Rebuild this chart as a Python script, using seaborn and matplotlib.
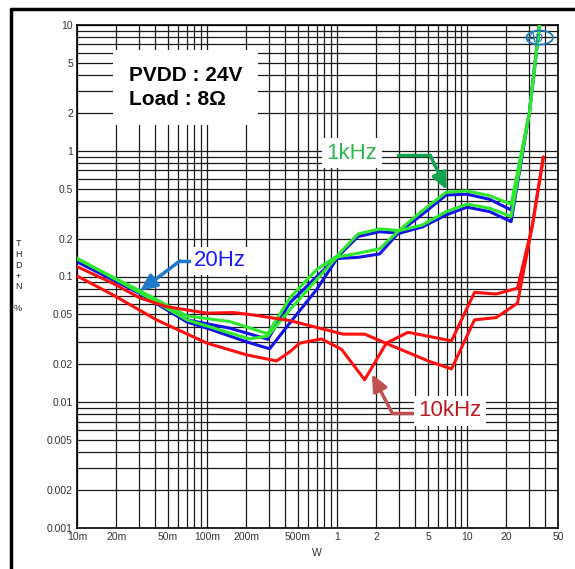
import matplotlib
matplotlib.use("Agg")
import matplotlib.pyplot as plt
from matplotlib.lines import Line2D
from matplotlib.patches import Ellipse
from matplotlib.ticker import FixedLocator, FixedFormatter, LogLocator, NullFormatter
import seaborn as sns
import pandas as pd

# THD+N (%) vs output power (W)
blue1_w = [0.01, 0.0305, 0.07, 0.15, 0.293, 0.433, 0.693, 1.0, 1.45, 2.12, 3.03, 4.54, 6.91, 10, 14.9, 21.8, 30.1, 36]
blue1_thd = [0.133, 0.0755, 0.0452, 0.0388, 0.0317, 0.0616, 0.0993, 0.142, 0.208, 0.227, 0.221, 0.248, 0.309, 0.356, 0.328, 0.273, 2.0, 10]
green1_w = [0.01, 0.0305, 0.07, 0.15, 0.293, 0.433, 0.693, 1.0, 1.45, 2.12, 3.03, 4.54, 6.91, 10, 14.9, 21.8, 30.1, 36]
green1_thd = [0.138, 0.0769, 0.0486, 0.0438, 0.035, 0.0675, 0.113, 0.146, 0.218, 0.239, 0.232, 0.257, 0.328, 0.376, 0.349, 0.300, 2.0, 10]
blue2_w = [0.01, 0.0305, 0.07, 0.1, 0.202, 0.303, 0.433, 0.693, 1.0, 1.45, 2.12, 3.03, 4.31, 6.91, 10, 14.9, 21.8, 30.1, 36]
blue2_thd = [0.131, 0.073, 0.0435, 0.0388, 0.0302, 0.0266, 0.0427, 0.0783, 0.139, 0.142, 0.151, 0.227, 0.30, 0.445, 0.451, 0.411, 0.338, 2.0, 10]
green2_w = [0.01, 0.0305, 0.07, 0.15, 0.213, 0.293, 0.433, 0.693, 1.0, 1.45, 2.12, 3.03, 4.31, 6.91, 10, 14.9, 21.8, 30.1, 36]
green2_thd = [0.140, 0.0743, 0.0452, 0.0355, 0.0319, 0.0336, 0.0543, 0.094, 0.143, 0.153, 0.166, 0.235, 0.32, 0.468, 0.479, 0.439, 0.376, 2.0, 10]
red1_w = [0.01, 0.019, 0.0305, 0.0489, 0.1, 0.158, 0.225, 0.433, 1.11, 1.63, 2.54, 5.14, 7.59, 11.4, 16.7, 24.4, 31.8, 38.6]
red1_thd = [0.12, 0.088, 0.0675, 0.0576, 0.0511, 0.0517, 0.0495, 0.0446, 0.0348, 0.0348, 0.0286, 0.0211, 0.0184, 0.0452, 0.0471, 0.0613, 0.257, 0.893]
red2_w = [0.01, 0.0189, 0.0409, 0.1, 0.202, 0.342, 0.433, 0.516, 0.757, 1.08, 1.63, 2.39, 3.51, 7.59, 11.4, 16.7, 24.4, 31.8, 38.6]
red2_thd = [0.101, 0.0714, 0.0452, 0.0295, 0.0238, 0.0213, 0.0252, 0.0295, 0.0319, 0.0264, 0.0151, 0.0295, 0.036, 0.0308, 0.0748, 0.0726, 0.0807, 0.257, 0.893]

x_ticks = [0.01, 0.02, 0.05, 0.1, 0.2, 0.5, 1, 2, 5, 10, 20, 50]
x_labels = ["10m", "20m", "50m", "100m", "200m", "500m", "1", "2", "5", "10", "20", "50"]
y_ticks = [0.001, 0.002, 0.005, 0.01, 0.02, 0.05, 0.1, 0.2, 0.5, 1, 2, 5, 10]
y_labels = ["0.001", "0.002", "0.005", "0.01", "0.02", "0.05", "0.1", "0.2", "0.5", "1", "2", "5", "10"]

sns.set_style("white")
plt.rcParams["font.family"] = ["Liberation Sans", "DejaVu Sans"]

fig = plt.figure(figsize=(5.75, 5.69), dpi=100)
ax = fig.add_axes([77 / 575, 41 / 569, 481 / 575, 503 / 569])

curves = [
    (blue1_w, blue1_thd, "#1414e6"),
    (blue2_w, blue2_thd, "#1414e6"),
    (green1_w, green1_thd, "#2ee82e"),
    (green2_w, green2_thd, "#2ee82e"),
    (red1_w, red1_thd, "#ff1010"),
    (red2_w, red2_thd, "#ff1010"),
]
for w, thd, c in curves:
    df = pd.DataFrame({"W": w, "THD": thd})
    sns.lineplot(data=df, x="W", y="THD", color=c, lw=2.2, sort=False,
                 estimator=None, ax=ax, zorder=3)

ax.set_xscale("log")
ax.set_yscale("log")
ax.set_xlim(0.01, 50)
ax.set_ylim(0.001, 10)
ax.set_xlabel("")
ax.set_ylabel("")

ax.xaxis.set_major_locator(FixedLocator(x_ticks))
ax.xaxis.set_major_formatter(FixedFormatter(x_labels))
ax.yaxis.set_major_locator(FixedLocator(y_ticks))
ax.yaxis.set_major_formatter(FixedFormatter(y_labels))
ax.xaxis.set_minor_locator(LogLocator(base=10, subs=range(1, 10), numticks=20))
ax.yaxis.set_minor_locator(LogLocator(base=10, subs=range(1, 10), numticks=20))
ax.xaxis.set_minor_formatter(NullFormatter())
ax.yaxis.set_minor_formatter(NullFormatter())
ax.tick_params(which="both", length=0, labelsize=7.5, labelcolor="#333333", pad=3)
ax.grid(which="both", color="#1a1a1a", lw=0.9)
ax.set_axisbelow(True)
for s in ax.spines.values():
    s.set_color("black")
    s.set_linewidth(1.2)

# annotations
ax.text(0.108, 0.876, "PVDD : 24V\nLoad : 8\u03a9", transform=ax.transAxes, color="black",
        fontsize=15, fontweight="bold", ha="left", va="center", linespacing=1.35,
        bbox=dict(boxstyle="square,pad=0.75", fc="white", ec="none"), zorder=5)

ax.text(0.243, 0.531, "20Hz", transform=ax.transAxes, color="#1a1aff",
        fontsize=16, ha="left", va="center",
        bbox=dict(boxstyle="square,pad=0.15", fc="white", ec="none"), zorder=5)
ax.plot([0.235, 0.214], [0.531, 0.531], transform=ax.transAxes, color="#1f78c8", lw=2.5, zorder=4)
ax.annotate("", xy=(0.131, 0.471), xytext=(0.214, 0.531), xycoords="axes fraction",
            arrowprops=dict(arrowstyle="-|>,head_width=0.45,head_length=1.0", color="#1f78c8", lw=2.5,
                            shrinkA=0, shrinkB=0), zorder=4)

ax.text(0.519, 0.745, "1kHz", transform=ax.transAxes, color="#2eb84f",
        fontsize=16, ha="left", va="center",
        bbox=dict(boxstyle="square,pad=0.2", fc="white", ec="none"), zorder=5)
ax.plot([0.667, 0.734], [0.741, 0.741], transform=ax.transAxes, color="#11a34e", lw=2.5, zorder=4)
ax.annotate("", xy=(0.769, 0.672), xytext=(0.734, 0.741), xycoords="axes fraction",
            arrowprops=dict(arrowstyle="-|>,head_width=0.45,head_length=1.0", color="#11a34e", lw=2.5,
                            shrinkA=0, shrinkB=0), zorder=4)

ax.text(0.709, 0.233, "10kHz", transform=ax.transAxes, color="#b81c1c",
        fontsize=16, ha="left", va="center",
        bbox=dict(boxstyle="square,pad=0.2", fc="white", ec="none"), zorder=5)
ax.plot([0.699, 0.655], [0.229, 0.229], transform=ax.transAxes, color="#c05050", lw=2.5, zorder=4)
ax.annotate("", xy=(0.613, 0.306), xytext=(0.655, 0.229), xycoords="axes fraction",
            arrowprops=dict(arrowstyle="-|>,head_width=0.45,head_length=1.0", color="#c05050", lw=2.5,
                            shrinkA=0, shrinkB=0), zorder=4)

# Ap logo
ax.text(0.952, 0.975, "Ap", transform=ax.transAxes, color="#1f7ab8", fontsize=10,
        style="italic", ha="center", va="center", zorder=5)
ax.add_patch(Ellipse((0.962, 0.975), 0.055, 0.028, transform=ax.transAxes, fill=False,
                     ec="#1f7ab8", lw=1.3, zorder=5))

# axis titles
fig.text(18 / 575, 1 - 276 / 569, "T\nH\nD\n+\nN\n\n%", ha="center", va="center",
         fontsize=6.5, linespacing=1.25, color="#222222")
fig.text(317 / 575, 1 - 553 / 569, "W", ha="center", va="center", fontsize=7.5, color="#333333")

# outer frame
fig.add_artist(Line2D([11 / 575, 1], [1 - 9 / 569, 1 - 9 / 569], color="black", lw=2.5))
fig.add_artist(Line2D([11 / 575, 11 / 575], [0, 1 - 9 / 569], color="black", lw=2.5))

fig.savefig("out.png", dpi=100)
